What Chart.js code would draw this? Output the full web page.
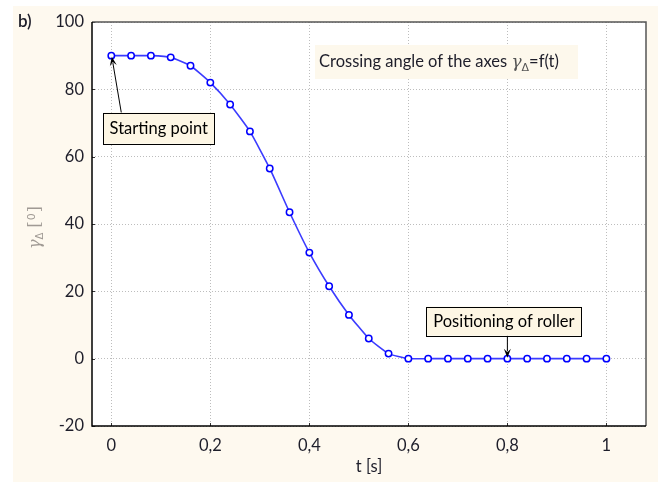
<!DOCTYPE html>
<html><head><meta charset="utf-8">
<script src="https://cdn.jsdelivr.net/npm/chart.js@4/dist/chart.umd.min.js"></script>
<style>html,body{margin:0;padding:0;background:#fff}canvas{display:block}</style>
</head><body>
<canvas id="c" width="658" height="484"></canvas>
<script>
const tValues = [0,0.04,0.08,0.12,0.16,0.2,0.24,0.28,0.32,0.36,0.4,0.44,0.48,0.52,0.56,0.6,0.64,0.68,0.72,0.76,0.8,0.84,0.88,0.92,0.96,1.0];
const gammaValues = [90,90,90,89.5,87,82,75.5,67.5,56.5,43.5,31.5,21.5,13,6,1.5,0,0,0,0,0,0,0,0,0,0,0];
const xTickValues = [0,0.2,0.4,0.6,0.8,1];
const yTickValues = [-20,0,20,40,60,80,100];
const panelLabel = 'b)';
const titleText = 'Crossing angle of the axes ';
const xAxisTitle = 't [s]';
const startLabel = 'Starting point';
const rollerLabel = 'Positioning of roller';

const FONT = 'Lato, "Open Sans", sans-serif';
const CREAM = '#fef9ef';
const TXT = '#1e1e2a';

function arrow(ctx, x1, y1, x2, y2) {
  const a = Math.atan2(y2 - y1, x2 - x1);
  const L = 9, W = 3.5;
  ctx.save();
  ctx.strokeStyle = '#000'; ctx.fillStyle = '#000'; ctx.lineWidth = 1;
  ctx.beginPath(); ctx.moveTo(x1, y1);
  ctx.lineTo(x2 - Math.cos(a) * L * 0.7, y2 - Math.sin(a) * L * 0.7); ctx.stroke();
  ctx.beginPath();
  ctx.moveTo(x2, y2);
  ctx.lineTo(x2 - Math.cos(a) * L + Math.sin(a) * W, y2 - Math.sin(a) * L - Math.cos(a) * W);
  ctx.lineTo(x2 - Math.cos(a) * L * 0.6, y2 - Math.sin(a) * L * 0.6);
  ctx.lineTo(x2 - Math.cos(a) * L - Math.sin(a) * W, y2 - Math.sin(a) * L + Math.cos(a) * W);
  ctx.closePath(); ctx.fill();
  ctx.restore();
}

function box(ctx, x, y, w, h, text) {
  ctx.save();
  ctx.fillStyle = '#fdf6e4';
  ctx.fillRect(x, y, w, h);
  ctx.strokeStyle = '#000'; ctx.lineWidth = 1;
  ctx.strokeRect(Math.round(x) + 0.5, Math.round(y) + 0.5, Math.round(w), Math.round(h));
  ctx.fillStyle = '#000';
  ctx.font = '16.5px ' + FONT;
  ctx.textAlign = 'center'; ctx.textBaseline = 'middle';
  ctx.fillText(text, x + w / 2, y + h / 2 + 1);
  ctx.restore();
}

const deco = {
  id: 'deco',
  beforeDraw(chart) {
    const ctx = chart.ctx, a = chart.chartArea;
    ctx.save();
    ctx.fillStyle = '#fff'; ctx.fillRect(0, 0, chart.width, chart.height);
    ctx.fillStyle = CREAM; ctx.fillRect(13, 6, chart.width - 13, chart.height - 8);
    ctx.fillStyle = '#fff'; ctx.fillRect(a.left, a.top, a.right - a.left, a.bottom - a.top);
    ctx.restore();
  },
  afterDatasetsDraw(chart) {
    const ctx = chart.ctx, a = chart.chartArea;
    const xs = chart.scales.x, ys = chart.scales.y;
    ctx.save();
    // inner ticks
    ctx.strokeStyle = '#333'; ctx.lineWidth = 1;
    xTickValues.forEach(v => {
      const px = Math.round(xs.getPixelForValue(v)) + 0.5;
      ctx.beginPath(); ctx.moveTo(px, a.bottom); ctx.lineTo(px, a.bottom - 3); ctx.stroke();
    });
    yTickValues.forEach(v => {
      const py = Math.round(ys.getPixelForValue(v)) + 0.5;
      ctx.beginPath(); ctx.moveTo(a.left, py); ctx.lineTo(a.left + 3, py); ctx.stroke();
    });
    // frame
    ctx.strokeStyle = '#555'; ctx.lineWidth = 1.5;
    ctx.beginPath(); ctx.moveTo(a.left, a.top); ctx.lineTo(a.right, a.top); ctx.lineTo(a.right, a.bottom); ctx.stroke();
    ctx.strokeStyle = '#000'; ctx.lineWidth = 1.5;
    ctx.beginPath(); ctx.moveTo(a.left, a.top); ctx.lineTo(a.left, a.bottom); ctx.lineTo(a.right, a.bottom); ctx.stroke();

    // panel label
    ctx.fillStyle = TXT; ctx.font = '600 17px ' + FONT;
    ctx.textAlign = 'left'; ctx.textBaseline = 'middle';
    ctx.fillText(panelLabel, 18, 22);

    // title box
    ctx.font = '16.5px ' + FONT;
    const tw = ctx.measureText(titleText).width;
    ctx.fillStyle = '#fdf8ec';
    ctx.fillRect(315, 45, 263, 34);
    ctx.fillStyle = TXT; ctx.textBaseline = 'alphabetic';
    let x = 319; const base = 67;
    ctx.fillText(titleText, x, base); x += tw;
    ctx.font = 'italic 17px "DejaVu Serif", serif';
    ctx.fillStyle = '#555';
    ctx.fillText('\u03B3', x, base); x += ctx.measureText('\u03B3').width;
    ctx.font = '11px "DejaVu Sans", sans-serif';
    ctx.fillText('\u0394', x, base + 4); x += ctx.measureText('\u0394').width;
    ctx.font = '16.5px ' + FONT; ctx.fillStyle = TXT;
    ctx.fillText('=f(t)', x, base);

    // y axis label (rotated)
    ctx.save();
    ctx.translate(40, 249);
    ctx.rotate(-Math.PI / 2);
    ctx.fillStyle = '#a09a94';
    let yx = 0;
    ctx.font = 'italic 16px "DejaVu Serif", serif';
    ctx.fillText('\u03B3', yx, 0); yx += ctx.measureText('\u03B3').width;
    ctx.font = '10px "DejaVu Sans", sans-serif';
    ctx.fillText('\u0394', yx, 3); yx += ctx.measureText('\u0394').width + 5;
    ctx.font = '16px "DejaVu Serif", serif';
    ctx.fillText('[', yx, 0); yx += ctx.measureText('[').width + 1;
    ctx.font = '11px "DejaVu Sans", sans-serif';
    ctx.fillText('0', yx, -5); yx += ctx.measureText('0').width + 1;
    ctx.font = '16px "DejaVu Serif", serif';
    ctx.fillText(']', yx, 0);
    ctx.restore();

    // annotations
    const sx = xs.getPixelForValue(tValues[0]), sy = ys.getPixelForValue(gammaValues[0]);
    arrow(ctx, sx + 10, sy + 57, sx + 0.5, sy + 1);
    box(ctx, sx - 8, sy + 57, 111, 31, startLabel);
    const rx = xs.getPixelForValue(tValues[20]), ry = ys.getPixelForValue(gammaValues[20]);
    arrow(ctx, rx, ry - 23, rx, ry - 1);
    box(ctx, rx - 81, ry - 52, 155, 29, rollerLabel);
    ctx.restore();
  }
};

new Chart(document.getElementById('c'), {
  type: 'line',
  data: {
    datasets: [{
      data: tValues.map((t, i) => ({ x: t, y: gammaValues[i] })),
      borderColor: '#3b3bff',
      borderWidth: 1.6,
      pointRadius: 3.2,
      pointBorderWidth: 1.5,
      pointBorderColor: '#0000ff',
      pointBackgroundColor: '#ffffff',
      tension: 0.15,
      fill: false
    }]
  },
  options: {
    responsive: false,
    animation: false,
    devicePixelRatio: 1,
    layout: { padding: { left: 0, top: 22, right: 12, bottom: 0 } },
    plugins: { legend: { display: false }, tooltip: { enabled: false } },
    scales: {
      x: {
        type: 'linear', min: -0.039, max: 1.08,
        afterBuildTicks: s => { s.ticks = xTickValues.map(v => ({ value: v })); },
        afterFit: s => { s.height = 58; },
        grid: { color: '#bdbdbd', lineWidth: 1, drawTicks: false },
        border: { display: false, dash: [1, 2] },
        ticks: { padding: 10, color: TXT, font: { family: FONT, size: 16.5 },
          callback: v => String(v).replace('.', ',') },
        title: { display: true, text: xAxisTitle, color: TXT, font: { family: FONT, size: 16.5 }, padding: { top: 0, bottom: 7 } }
      },
      y: {
        type: 'linear', min: -20, max: 100,
        afterBuildTicks: s => { s.ticks = yTickValues.map(v => ({ value: v })); },
        afterFit: s => { s.width = 92; },
        grid: { color: '#bdbdbd', lineWidth: 1, drawTicks: false },
        border: { display: false, dash: [1, 2] },
        ticks: { padding: 8, color: TXT, font: { family: FONT, size: 16.5 } }
      }
    }
  },
  plugins: [deco]
});
</script>
</body></html>
